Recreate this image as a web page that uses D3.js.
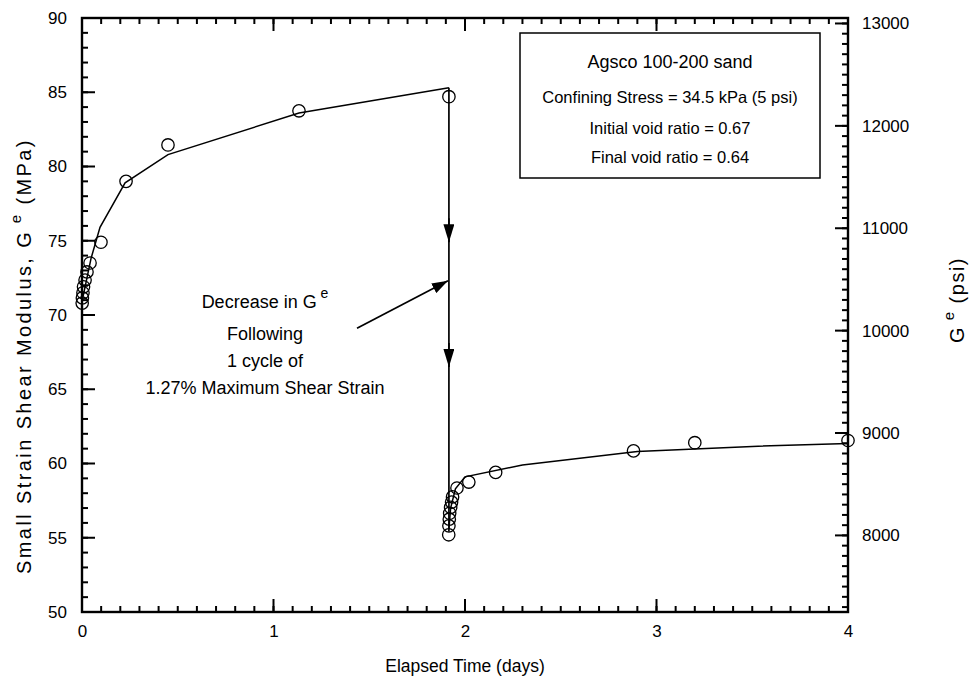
<!DOCTYPE html>
<html>
<head>
<meta charset="utf-8">
<script src="https://cdn.jsdelivr.net/npm/d3@7"></script>
<style>
  html, body { margin: 0; padding: 0; background: #fff; }
  svg { display: block; font-family: "Liberation Sans", Arial, Helvetica, sans-serif; }
</style>
</head>
<body>
<svg id="chart" width="970" height="686"></svg>
<script>
// Measured shear modulus, first loading stage (before the strain cycle)
const stage1Days = [0.001, 0.002, 0.005, 0.008, 0.016, 0.026, 0.042, 0.099, 0.23, 0.449, 1.133, 1.916];
const stage1MPa  = [70.8, 71.15, 71.5, 71.9, 72.35, 72.9, 73.5, 74.9, 79.0, 81.45, 83.75, 84.7];

// Measured shear modulus after 1 cycle of 1.27% max shear strain
const stage2Days = [1.915, 1.916, 1.918, 1.92, 1.925, 1.93, 1.935, 1.958, 2.02, 2.16, 2.88, 3.2, 4.0];
const stage2MPa  = [55.2, 55.8, 56.25, 56.65, 57.05, 57.4, 57.75, 58.35, 58.75, 59.4, 60.85, 61.4, 61.55];

// Trend curves through each stage
const trend1Days = [0.0, 0.047, 0.094, 0.225, 0.449, 1.133, 1.916];
const trend1MPa  = [70.9, 73.8, 75.9, 78.9, 80.8, 83.6, 85.3];
const trend2Days = [1.916, 1.925, 1.95, 2.0, 2.3, 2.9, 3.5, 4.0];
const trend2MPa  = [55.6, 57.0, 58.3, 59.1, 59.9, 60.8, 61.15, 61.35];

// Drop in modulus caused by the strain cycle
const dropDay = 1.916;
const dropFromMPa = 85.3;
const dropToMPa = 55.4;
const dropArrowMPa = [74.9, 66.5];

// Axis ticks
const xTicks = [0, 1, 2, 3, 4];
const yTicksMPa = [50, 55, 60, 65, 70, 75, 80, 85, 90];
const yTicksPsi = [8000, 9000, 10000, 11000, 12000, 13000];
const PSI_PER_MPA = 145.038;

// Text blocks
const legendLines = ["Agsco 100-200 sand", "Confining Stress = 34.5 kPa (5 psi)", "Initial void ratio = 0.67", "Final void ratio = 0.64"];
const noteLines = ["Following", "1 cycle of", "1.27% Maximum Shear Strain"];

const svg = d3.select("#chart");
const margin = { left: 82, top: 18, right: 122, bottom: 74 };
const W = 970 - margin.left - margin.right;
const H = 686 - margin.top - margin.bottom;

const x = d3.scaleLinear().domain([0, 4]).range([0, W]);
const y = d3.scaleLinear().domain([50, 90]).range([H, 0]);
const yPsi = d3.scaleLinear().domain([50 * PSI_PER_MPA, 90 * PSI_PER_MPA]).range([H, 0]);

const g = svg.append("g").attr("transform", `translate(${margin.left},${margin.top})`);

// Arrowhead markers
const defs = svg.append("defs");
function marker(id, len, wid) {
  defs.append("marker")
    .attr("id", id)
    .attr("viewBox", "0 0 10 10")
    .attr("refX", 10).attr("refY", 5)
    .attr("markerWidth", len).attr("markerHeight", wid)
    .attr("markerUnits", "userSpaceOnUse")
    .attr("orient", "auto")
    .attr("preserveAspectRatio", "none")
    .append("path").attr("d", "M0,0 L10,5 L0,10 Z").attr("fill", "#000");
}
marker("arrowDrop", 18, 11);
marker("arrowNote", 16, 11);

// --- inward tick marks on all four sides ---
const tickLayer = g.append("g");
function hTicks(values, scale, len, side) {
  // ticks on the bottom (side = 1) or top (side = 0) edge, pointing into the plot
  tickLayer.append("g").selectAll("line").data(values).join("line")
    .attr("x1", d => scale(d)).attr("x2", d => scale(d))
    .attr("y1", side ? H : 0).attr("y2", side ? H - len : len)
    .attr("stroke", "#000").attr("stroke-width", 2);
}
function vTicks(values, scale, len, side) {
  // ticks on the right (side = 1) or left (side = 0) edge, pointing into the plot
  tickLayer.append("g").selectAll("line").data(values).join("line")
    .attr("y1", d => scale(d)).attr("y2", d => scale(d))
    .attr("x1", side ? W : 0).attr("x2", side ? W - len : len)
    .attr("stroke", "#000").attr("stroke-width", 2);
}
const xMinor = d3.range(0, 41).map(i => i / 10);
const yMinor = d3.range(50, 91);
const psiMinor = d3.range(7300, 13001, 100);
[0, 1].forEach(s => { hTicks(xMinor, x, 6, s); hTicks(xTicks, x, 13, s); });
vTicks(yMinor, y, 6, 0); vTicks(yTicksMPa, y, 13, 0);
vTicks(psiMinor, yPsi, 6, 1); vTicks(yTicksPsi, yPsi, 13, 1);

// --- tick labels via d3 axes (lines suppressed, labels kept) ---
function labelAxis(axisGen, transform, place) {
  const a = g.append("g").attr("transform", transform).call(axisGen.tickSize(0));
  a.select(".domain").remove();
  a.selectAll(".tick line").remove();
  a.selectAll(".tick text").attr("fill", "#000").style("font-size", "17px").call(place);
  return a;
}
labelAxis(d3.axisBottom(x).tickValues(xTicks).tickFormat(d3.format("d")), `translate(0,${H})`,
  t => t.attr("y", 13).attr("dy", "0.71em"));
labelAxis(d3.axisLeft(y).tickValues(yTicksMPa).tickFormat(d3.format("d")), `translate(0,0)`,
  t => t.attr("x", -15).attr("text-anchor", "end"));
labelAxis(d3.axisRight(yPsi).tickValues(yTicksPsi).tickFormat(d3.format("d")), `translate(${W},0)`,
  t => t.attr("x", 14).attr("text-anchor", "start"));

// frame
g.append("rect").attr("x", 0).attr("y", 0).attr("width", W).attr("height", H)
  .attr("fill", "none").attr("stroke", "#000").attr("stroke-width", 2.4);

// --- trend curves ---
const line = d3.line().x(d => x(d[0])).y(d => y(d[1]));
g.append("path").datum(d3.zip(trend1Days, trend1MPa)).attr("d", line)
  .attr("fill", "none").attr("stroke", "#000").attr("stroke-width", 1.5);
g.append("path").datum(d3.zip(trend2Days, trend2MPa)).attr("d", line)
  .attr("fill", "none").attr("stroke", "#000").attr("stroke-width", 1.5);

// vertical drop line with downward arrowheads
g.append("line")
  .attr("x1", x(dropDay)).attr("x2", x(dropDay))
  .attr("y1", y(dropFromMPa)).attr("y2", y(dropToMPa))
  .attr("stroke", "#000").attr("stroke-width", 1.7);
dropArrowMPa.forEach(v => {
  g.append("line")
    .attr("x1", x(dropDay)).attr("x2", x(dropDay))
    .attr("y1", y(v) - 24).attr("y2", y(v))
    .attr("stroke", "#000").attr("stroke-width", 1.7)
    .attr("marker-end", "url(#arrowDrop)");
});

// --- data points ---
const pts = d3.zip(stage1Days, stage1MPa).concat(d3.zip(stage2Days, stage2MPa));
g.selectAll("circle.pt").data(pts).join("circle")
  .attr("class", "pt")
  .attr("cx", d => x(d[0])).attr("cy", d => y(d[1])).attr("r", 6.2)
  .attr("fill", "none").attr("stroke", "#000").attr("stroke-width", 1.3);

// --- annotation ---
const noteX = 265 - margin.left;
const noteBase = [290, 322, 349, 376];
const note = g.append("text").attr("x", noteX).attr("y", noteBase[0])
  .attr("text-anchor", "middle").style("font-size", "18px").attr("fill", "#000");
note.append("tspan").text("Decrease in  G");
note.append("tspan").attr("dy", -10).style("font-size", "14px").text(" e");
noteLines.forEach((t, i) => {
  g.append("text").attr("x", noteX).attr("y", noteBase[i + 1])
    .attr("text-anchor", "middle").style("font-size", "18px").text(t);
});
g.append("line")
  .attr("x1", x(1.436)).attr("y1", y(69.1))
  .attr("x2", x(1.911)).attr("y2", y(72.3))
  .attr("stroke", "#000").attr("stroke-width", 1.7)
  .attr("marker-end", "url(#arrowNote)");

// --- legend box ---
const lx0 = 520 - margin.left, lx1 = 820 - margin.left, ly0 = 33 - margin.top, ly1 = 178 - margin.top;
g.append("rect").attr("x", lx0).attr("y", ly0).attr("width", lx1 - lx0).attr("height", ly1 - ly0)
  .attr("fill", "#fff").attr("stroke", "#000").attr("stroke-width", 1.5);
const lcx = (lx0 + lx1) / 2;
const legendY = [68, 103, 134, 163].map(v => v - margin.top);
const legendSize = ["18px", "16.5px", "16.5px", "16.5px"];
legendLines.forEach((t, i) => {
  g.append("text").attr("x", lcx).attr("y", legendY[i]).attr("text-anchor", "middle")
    .style("font-size", legendSize[i]).text(t);
});

// --- axis titles ---
svg.append("text").attr("x", margin.left + x(2)).attr("y", 672)
  .attr("text-anchor", "middle").style("font-size", "17.5px").text("Elapsed Time (days)");

const yt = svg.append("text").attr("transform", `translate(31,356) rotate(-90)`)
  .attr("text-anchor", "middle").style("font-size", "20px").style("letter-spacing", "2.4px");
yt.append("tspan").text("Small Strain Shear Modulus,  G");
yt.append("tspan").attr("dy", -10).style("font-size", "15px").text(" e");
yt.append("tspan").attr("dy", 10).text("   (MPa)");

const yt2 = svg.append("text").attr("transform", `translate(964,300) rotate(-90)`)
  .attr("text-anchor", "middle").style("font-size", "20px").style("letter-spacing", "1.5px");
yt2.append("tspan").text("G");
yt2.append("tspan").attr("dy", -10).style("font-size", "15px").text(" e");
yt2.append("tspan").attr("dy", 10).text("   (psi)");
</script>
</body>
</html>
